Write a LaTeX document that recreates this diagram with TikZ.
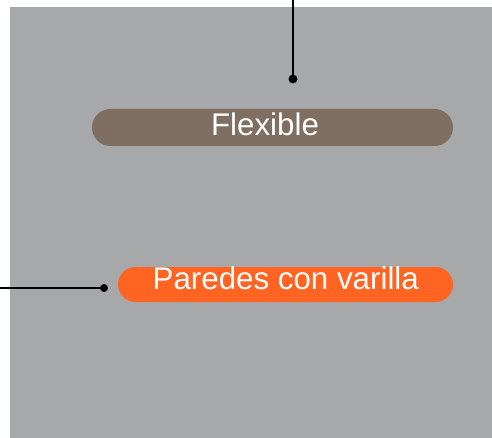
\documentclass[tikz,border=0pt]{standalone}
\usepackage{fontspec}
\setmainfont{Liberation Sans}
\definecolor{bggray}{HTML}{A7A8AA}
\definecolor{pillbrown}{HTML}{7F6F63}
\definecolor{pillorange}{HTML}{FF6422}
\begin{document}
\begin{tikzpicture}[x=1pt,y=-1pt,
  pilltext/.style={text=white, font=\fontsize{31.3}{36}\selectfont, inner sep=0pt, anchor=base},
  dotnode/.style={circle, fill=black, inner sep=0pt, minimum size=#1},
  lead/.style={line width=1.8pt, draw=black}]
\useasboundingbox (0,0) rectangle (492,438);
\fill[white] (0,0) rectangle (492,438);
\fill[bggray] (10,7) rectangle (492,438);
% pills
\fill[pillbrown, rounded corners=18.5pt] (92,109) rectangle (453,146);
\fill[pillorange, rounded corners=17.5pt] (118,267) rectangle (453,302);
\node[pilltext] (flex) at (265,135.7) {Flexible};
\node[pilltext] (pared) at (285.8,289.3) {Paredes con varilla};
% leaders
\node[dotnode=9pt] (d1) at (293,79) {};
\coordinate (t1) at (293,0);
\draw[lead] (t1) -- (d1.center);
\node[dotnode=8pt] (d2) at (104,288) {};
\coordinate (t2) at (0,288);
\draw[lead] (t2) -- (d2.center);
\end{tikzpicture}
\end{document}
